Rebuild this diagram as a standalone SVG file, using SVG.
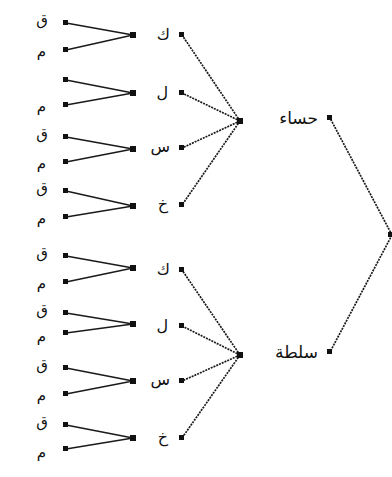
<svg xmlns="http://www.w3.org/2000/svg" width="392" height="477" viewBox="0 0 392 477">
<style>
.bg{fill:#ffffff}
.d{fill:#111}
.l{stroke:#1a1a1a;stroke-width:1.6;fill:none}
.h{stroke:#1a1a1a;stroke-width:1.7;fill:none;stroke-dasharray:2 1}
.t{font-family:"DejaVu Sans",sans-serif;fill:#111;text-anchor:end}
.s{font-size:15px}
.m{font-size:16px}
.b{font-size:17px}
</style>
<rect class="bg" width="392" height="477"/>
<g id="connectors">
<path class="h" d="M392,235 L330,118 M392,235 L330,352"/>
<path class="h" d="M240,121 L182,35 M240,121 L182,93 M240,121 L182,148 M240,121 L182,205"/>
<path class="h" d="M240,355 L182,270 M240,355 L182,326 M240,355 L182,381 M240,355 L182,438"/>
<path class="l" d="M133,35 L66,23 M133,35 L66,50 M133,93 L66,80 M133,93 L66,105 M133,149 L66,137 M133,149 L66,162 M133,206 L66,191 M133,206 L66,217"/>
<path class="l" d="M133,268 L66,256 M133,268 L66,282 M133,324 L66,313 M133,324 L66,333 M133,381 L66,368 M133,381 L66,394 M133,438 L66,425 M133,438 L66,449"/>
</g>
<g id="root"><rect class="d" x="388" y="232" width="5" height="5"/></g>
<g id="n-soup"><rect class="d" x="327" y="115" width="5" height="5"/><text class="t b" x="318" y="124">حساء</text><rect class="d" x="237" y="118" width="6" height="6"/></g>
<g id="n-salad"><rect class="d" x="327" y="349" width="5" height="5"/><text class="t b" x="318" y="358">سلطة</text><rect class="d" x="237" y="352" width="6" height="6"/></g>
<g id="n-k1"><rect class="d" x="179" y="32" width="5" height="5"/><text class="t m" x="170" y="40">ك</text><rect class="d" x="130" y="32" width="6" height="6"/></g>
<g id="n-l1"><rect class="d" x="179" y="90" width="5" height="5"/><text class="t m" x="168" y="98">ل</text><rect class="d" x="130" y="90" width="6" height="6"/></g>
<g id="n-s1"><rect class="d" x="179" y="145" width="5" height="5"/><text class="t m" x="170" y="152">س</text><rect class="d" x="130" y="146" width="6" height="6"/></g>
<g id="n-kh1"><rect class="d" x="179" y="202" width="5" height="5"/><text class="t m" x="168" y="209">خ</text><rect class="d" x="130" y="203" width="6" height="6"/></g>
<g id="n-k2"><rect class="d" x="179" y="267" width="5" height="5"/><text class="t m" x="170" y="275">ك</text><rect class="d" x="130" y="265" width="6" height="6"/></g>
<g id="n-l2"><rect class="d" x="179" y="323" width="5" height="5"/><text class="t m" x="168" y="331">ل</text><rect class="d" x="130" y="321" width="6" height="6"/></g>
<g id="n-s2"><rect class="d" x="179" y="378" width="5" height="5"/><text class="t m" x="170" y="385">س</text><rect class="d" x="130" y="378" width="6" height="6"/></g>
<g id="n-kh2"><rect class="d" x="179" y="435" width="5" height="5"/><text class="t m" x="168" y="442">خ</text><rect class="d" x="130" y="435" width="6" height="6"/></g>
<g id="leaves">
<g id="lf1"><rect class="d" x="63" y="20" width="5" height="5"/><text class="t s" x="48" y="25">ق</text></g>
<g id="lf2"><rect class="d" x="63" y="47" width="5" height="5"/><text class="t s" x="46" y="56">م</text></g>
<g id="lf3"><rect class="d" x="63" y="77" width="5" height="5"/></g>
<g id="lf4"><rect class="d" x="63" y="102" width="5" height="5"/><text class="t s" x="46" y="111">م</text></g>
<g id="lf5"><rect class="d" x="63" y="134" width="5" height="5"/><text class="t s" x="48" y="139">ق</text></g>
<g id="lf6"><rect class="d" x="63" y="159" width="5" height="5"/><text class="t s" x="46" y="168">م</text></g>
<g id="lf7"><rect class="d" x="63" y="188" width="5" height="5"/><text class="t s" x="48" y="193">ق</text></g>
<g id="lf8"><rect class="d" x="63" y="214" width="5" height="5"/><text class="t s" x="46" y="223">م</text></g>
<g id="lf9"><rect class="d" x="63" y="253" width="5" height="5"/><text class="t s" x="48" y="258">ق</text></g>
<g id="lf10"><rect class="d" x="63" y="279" width="5" height="5"/><text class="t s" x="46" y="288">م</text></g>
<g id="lf11"><rect class="d" x="63" y="310" width="5" height="5"/><text class="t s" x="48" y="315">ق</text></g>
<g id="lf12"><rect class="d" x="63" y="330" width="5" height="5"/><text class="t s" x="46" y="341">م</text></g>
<g id="lf13"><rect class="d" x="63" y="365" width="5" height="5"/><text class="t s" x="48" y="370">ق</text></g>
<g id="lf14"><rect class="d" x="63" y="391" width="5" height="5"/><text class="t s" x="46" y="400">م</text></g>
<g id="lf15"><rect class="d" x="63" y="422" width="5" height="5"/><text class="t s" x="48" y="427">ق</text></g>
<g id="lf16"><rect class="d" x="63" y="446" width="5" height="5"/><text class="t s" x="46" y="457">م</text></g>
</g>
</svg>
